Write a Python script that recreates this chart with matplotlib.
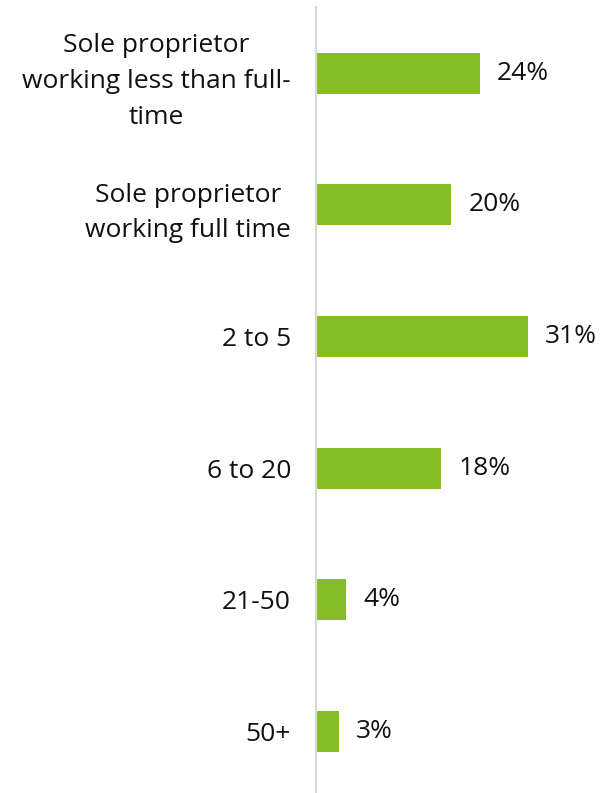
import matplotlib
matplotlib.use("Agg")
import matplotlib.pyplot as plt

categories = ["Sole proprietor\nworking less than full-\ntime",
              "Sole proprietor\nworking full time",
              "2 to 5", "6 to 20", "21-50", "50+"]
values = [24.0, 19.8, 31.0, 18.3, 4.4, 3.4]
labels = ["24%", "20%", "31%", "18%", "4%", "3%"]

plt.rcParams['font.family'] = ['Open Sans', 'DejaVu Sans']
W, H = 603, 793
fig = plt.figure(figsize=(W / 100, H / 100), dpi=100)
ax = fig.add_axes([316 / W, -4.3 / H, (W - 316) / W, 790 / H])

ypos = list(range(len(categories)))
ax.barh(ypos, values, height=0.31, color="#86BC25", left=0)
ax.set_ylim(len(categories) - 0.5, -0.5)
ax.set_xlim(0, (W - 316) / 6.84)

for y, v, t in zip(ypos, values, labels):
    ax.annotate(t, (v, y), xytext=(17, 0), textcoords="offset pixels",
                ha="left", va="center", fontsize=19, color="#111111")

ax.set_yticks(ypos)
ax.set_yticklabels(categories, fontsize=19, color="#111111",
                   multialignment="center", linespacing=1.56)
ax.tick_params(axis="y", length=0, pad=18)
ax.set_xticks([])
for s in ["top", "right", "bottom"]:
    ax.spines[s].set_visible(False)
ax.spines["left"].set_color("#D9D9D9")
ax.spines["left"].set_linewidth(1.6)

fig.savefig("out.png", dpi=100)
